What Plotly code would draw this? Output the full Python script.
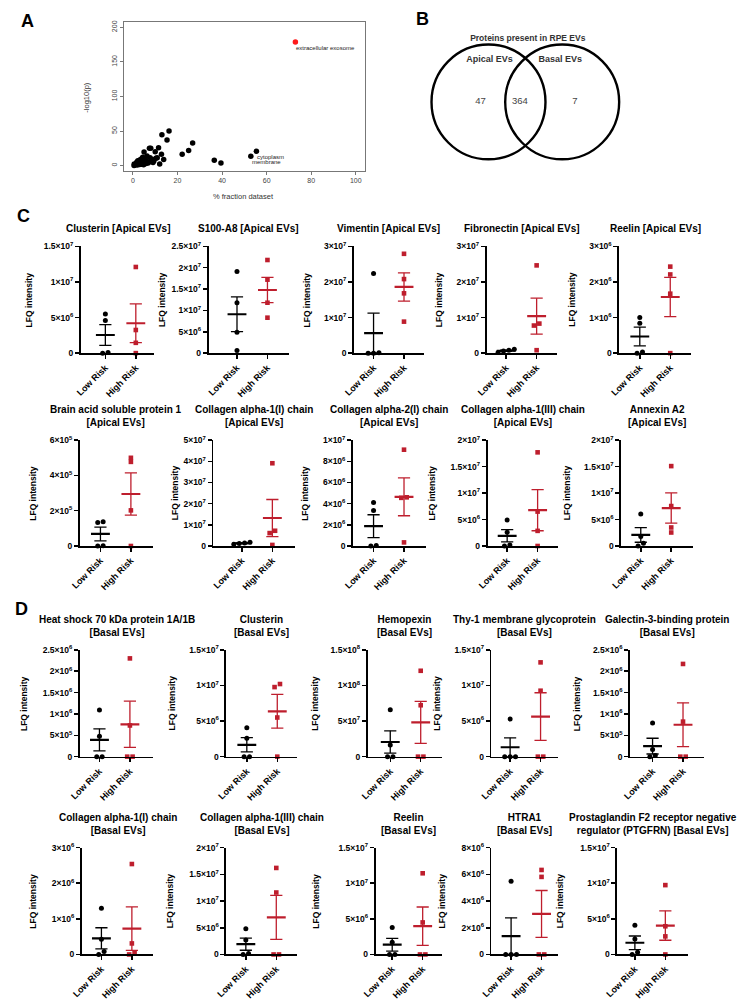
import numpy as np
import plotly.graph_objects as go

W, H = 740, 1001
FONT = "Liberation Sans, Arial, Helvetica, sans-serif"
RED = "#BE1E2D"

# ---------------- DATA ----------------
# Panel A: GO cellular component enrichment
A_frac = [0.5, 0.9, 1.4, 1.8, 2.4, 2.9, 3.5, 4.1, 0.6, 1.7,
          2.6, 3.2, 3.8, 4.4, 5.0, 5.3, 5.9, 6.3, 6.8, 7.4,
          8.0, 7.7, 8.7, 9.4, 10.3, 10.9, 10.0, 11.5, 12.8, 13.8,
          12.0, 13.0, 15.3, 16.2, 22.1, 25.0, 26.8, 36.5, 39.5, 52.9,
          55.4, 1.2, 2.0, 3.0, 4.6, 5.5, 6.1, 2.2, 3.9, 4.8,
          8.0, 9.0]
A_logp = [0.3, 1.0, 2.0, 3.0, 4.5, 6.5, 8.0, 10.5, 2.5, 5.0,
          4.0, 8.5, 2.0, 12.0, 19.7, 7.0, 3.0, 14.0, 3.8, 25.0,
          25.0, 11.5, 9.0, 6.7, 10.6, 11.5, 20.0, 26.0, 16.3, 9.0,
          2.4, 44.7, 37.0, 50.0, 16.3, 22.0, 32.7, 7.7, 3.8, 13.5,
          20.7, 1.5, 0.8, 1.5, 5.5, 9.5, 6.0, 7.0, 3.5, 1.2,
          6.0, 4.5]
A_top_frac = [72.9]
A_top_logp = [178.8]
A_label_text = ["extracellular exosome", "cytoplasm", "membrane"]
A_label_frac = [72.9, 55.4, 52.9]
A_label_logp = [178.8, 20.7, 13.5]
A_xticks = [0, 20, 40, 60, 80, 100]
A_yticks = [0, 50, 100, 150, 200]

# Panel B: Venn
venn_title = "Proteins present in RPE EVs"
venn_sets = ["Apical EVs", "Basal EVs"]
venn_counts = [47, 364, 7]  # apical only, shared, basal only

# Panels C and D
groups = ["Low Risk", "High Risk"]
titles = [
    "Clusterin [Apical EVs]", "S100-A8 [Apical EVs]", "Vimentin [Apical EVs]",
    "Fibronectin [Apical EVs]", "Reelin [Apical EVs]",
    "Brain acid soluble protein 1<br>[Apical EVs]", "Collagen alpha-1(I) chain<br>[Apical EVs]",
    "Collagen alpha-2(I) chain<br>[Apical EVs]", "Collagen alpha-1(III) chain<br>[Apical EVs]",
    "Annexin A2<br>[Apical EVs]",
    "Heat shock 70 kDa protein 1A/1B<br>[Basal EVs]", "Clusterin<br>[Basal EVs]",
    "Hemopexin<br>[Basal EVs]", "Thy-1 membrane glycoprotein<br>[Basal EVs]",
    "Galectin-3-binding protein<br>[Basal EVs]",
    "Collagen alpha-1(I) chain<br>[Basal EVs]", "Collagen alpha-1(III) chain<br>[Basal EVs]",
    "Reelin<br>[Basal EVs]", "HTRA1<br>[Basal EVs]",
    "Prostaglandin F2 receptor negative<br>regulator (PTGFRN) [Basal EVs]",
]
low_risk = [
    [5.5e6, 4.6e6, 0.1e6, 0.0],
    [19.1e6, 11.8e6, 4.9e6, 0.6e6],
    [22.4e6, 0.1e6, 0.0, 0.0],
    [1.1e6, 0.8e6, 0.6e6, 0.2e6],
    [1.0e6, 0.84e6, 0.03e6, 0.0],
    [1.38e5, 1.33e5, 0.02e5, 0.0],
    [1.8e6, 1.4e6, 1.2e6, 0.8e6],
    [4.1e6, 3.35e6, 0.05e6, 0.0],
    [4.9e6, 2.6e6, 0.2e6, 0.0],
    [6.07e6, 1.8e6, 0.5e6, 0.0],
    [1.09e6, 0.48e6, 0.0, 0.0],
    [4.07e6, 2.6e6, 0.0, 0.0],
    [6.6e7, 1.65e7, 0.0, 0.0],
    [5.28e6, 0.0, 0.0, 0.0],
    [0.787e6, 0.17e6, 0.03e6, 0.0],
    [1.3e6, 0.43e6, 0.08e6, 0.0],
    [4.8e6, 2.7e6, 0.2e6, 0.0],
    [3.78e6, 1.7e6, 0.0, 0.0],
    [5.49e6, 0.0, 0.0, 0.0],
    [4.1e6, 2.17e6, 0.3e6, 0.0],
]
high_risk = [
    [12.1e6, 3.25e6, 1.45e6, 0.0],
    [21.8e6, 17.2e6, 11.8e6, 8.3e6],
    [27.9e6, 20.8e6, 16.8e6, 8.85e6],
    [24.65e6, 8.3e6, 7.75e6, 0.83e6],
    [2.43e6, 2.21e6, 1.67e6, 0.0],
    [5.0e5, 4.77e5, 2.02e5, 0.0],
    [39.1e6, 7.2e6, 6.1e6, 0.5e6],
    [9.1e6, 4.6e6, 4.55e6, 0.34e6],
    [17.7e6, 6.5e6, 2.86e6, 0.0],
    [15.1e6, 7.55e6, 3.5e6, 2.55e6],
    [2.3e6, 0.73e6, 0.0, 0.0],
    [10.2e6, 9.77e6, 5.5e6, 0.0],
    [12.06e7, 7.22e7, 0.0, 0.0],
    [13.24e6, 9.26e6, 0.0, 0.0],
    [2.17e6, 0.82e6, 0.0, 0.0],
    [2.54e6, 0.31e6, 0.05e6, 0.0],
    [16.2e6, 11.6e6, 0.0, 0.0],
    [11.4e6, 4.5e6, 0.0, 0.0],
    [6.33e6, 5.81e6, 0.0, 0.0],
    [9.74e6, 3.96e6, 2.54e6, 0.0],
]
y_max = [1.5e7, 2.5e7, 3e7, 3e7, 3e6,
         6e5, 5e7, 1e7, 2e7, 2e7,
         2.5e6, 1.5e7, 1.5e8, 1.5e7, 2.5e6,
         3e6, 2e7, 1.5e7, 8e6, 1.5e7]
y_step = [5e6, 5e6, 1e7, 1e7, 1e6,
          2e5, 1e7, 2e6, 5e6, 5e6,
          5e5, 5e6, 5e7, 5e6, 5e5,
          1e6, 5e6, 5e6, 2e6, 5e6]

# ---------------- LAYOUT CONSTANTS (pixels) ----------------
row_top_px = [243, 439, 651, 851]
row_zero_px = [351, 546, 759, 959]
ax_left_px = [69, 199, 347, 482, 617, 68, 204, 346, 483, 619,
              68, 217, 361, 487, 628, 70, 217, 369, 487, 615]
ax_right_px = [144, 281, 418, 554, 690, 142, 287, 420, 555, 692,
               143, 289, 437, 555, 703, 143, 289, 437, 555, 687]
cat0_pad_px = [25, 29, 20, 20, 21, 21, 29, 21, 20, 20,
               20, 21, 23, 19, 23, 20, 20, 17, 20, 18]
ytitle_gap_px = [40, 35, 35, 36, 35, 35, 26, 36, 43, 42,
                 44, 42, 40, 42, 41, 37, 44, 48, 37, 45]
CAT_PX = 31.0
ROT_FIX_PX = 13   # rotated annotations render right of their anchor by this much


def px_x(p):
    return p / W


def px_y(p):
    return 1 - p / H


def sci(v):
    if v == 0:
        return "<b>0</b>"
    e = int(np.floor(np.log10(v) + 1e-9))
    m = round(v / 10 ** e, 2)
    return f"<b>{m:g}×10<sup>{e}</sup></b>"


def spread(vals, ymax, plot_h, spacing_px=5.5, thresh_px=3.6):
    order = np.argsort(vals)
    offs = np.zeros(len(vals))
    grps = []
    for idx in order:
        if grps and abs(vals[idx] - vals[grps[-1][-1]]) / ymax * plot_h < thresh_px:
            grps[-1].append(idx)
        else:
            grps.append([idx])
    for g in grps:
        k = len(g)
        for j, idx in enumerate(g):
            offs[idx] = (j - (k - 1) / 2) * spacing_px / CAT_PX
    return offs


fig = go.Figure()
layout = dict(width=W, height=H, margin=dict(l=0, r=0, t=0, b=0),
              paper_bgcolor="white", plot_bgcolor="white", showlegend=False,
              font=dict(family=FONT, color="black"))
ann = []
shapes = []


def paper_text(text, xp, yp, size, color="black", angle=0, xanchor="center",
               yanchor="middle"):
    if angle:
        xp -= ROT_FIX_PX
    return dict(text=text, x=px_x(xp), y=px_y(yp), xref="paper", yref="paper",
                xanchor=xanchor, yanchor=yanchor, textangle=angle, showarrow=False,
                font=dict(size=size, color=color))


# ---------------- Panel A ----------------
fig.add_trace(go.Scatter(x=A_frac, y=A_logp, mode="markers",
                         marker=dict(color="black", size=5.5, line=dict(width=0)),
                         xaxis="x", yaxis="y", hoverinfo="skip"))
fig.add_trace(go.Scatter(x=A_top_frac, y=A_top_logp, mode="markers",
                         marker=dict(color="#FF1A1A", size=5.5, line=dict(width=0)),
                         xaxis="x", yaxis="y", hoverinfo="skip"))
axA = dict(ticks="outside", ticklen=3, tickwidth=0.8, tickcolor="#555", showline=True,
           mirror=True, linecolor="#555", linewidth=0.8, showgrid=False, zeroline=False,
           tickfont=dict(size=7, color="#444"), fixedrange=True)
layout["xaxis"] = dict(domain=[px_x(113), px_x(358)], range=[-4, 104], tickvals=A_xticks,
                       anchor="y", **axA)
layout["yaxis"] = dict(domain=[px_y(167), px_y(16)], range=[-8, 208], tickvals=A_yticks,
                       tickangle=-90, anchor="x", **axA)
for t, fx, fy in zip(A_label_text, A_label_frac, A_label_logp):
    ann.append(dict(x=fx, y=fy, xref="x", yref="y", text=t, showarrow=False,
                    xanchor="left", yanchor="middle", yshift=-6, xshift=-1,
                    font=dict(size=6, color="#222")))
ann.append(paper_text("-log10(p)", 88, 92, 7.5, "#333", angle=-90))
ann.append(paper_text("% fraction dataset", 235, 193, 7.5, "#333"))

# ---------------- Panel B (Venn) ----------------
layout["xaxis2"] = dict(domain=[px_x(400), px_x(640)], range=[0, 240], visible=False,
                        anchor="y2", fixedrange=True)
layout["yaxis2"] = dict(domain=[px_y(180), px_y(20)], range=[0, 160], visible=False,
                        anchor="x2", fixedrange=True)
venn_circles = [(84, 83, 58), (159, 83, 58)]
for cx, cy, r in venn_circles:
    shapes.append(dict(type="circle", xref="x2", yref="y2", x0=cx - r, x1=cx + r,
                       y0=cy - r, y1=cy + r, line=dict(color="black", width=2.4)))
fig.add_trace(go.Scatter(x=[76, 116, 172], y=[83, 83, 83], mode="text",
                         text=[str(c) for c in venn_counts],
                         textfont=dict(size=9.5, color="#444", family=FONT),
                         xaxis="x2", yaxis="y2", hoverinfo="skip"))
fig.add_trace(go.Scatter(x=[85, 157], y=[126, 126], mode="text",
                         text=[f"<b>{s}</b>" for s in venn_sets],
                         textfont=dict(size=9, color="#333", family=FONT),
                         xaxis="x2", yaxis="y2", hoverinfo="skip"))
fig.add_trace(go.Scatter(x=[124], y=[147], mode="text", text=[f"<b>{venn_title}</b>"],
                         textfont=dict(size=8.5, color="#333", family=FONT),
                         xaxis="x2", yaxis="y2", hoverinfo="skip"))

# ---------------- Panels C and D ----------------
for i in range(20):
    n = i + 3
    row = i // 5
    top, zero = row_top_px[row], row_zero_px[row]
    left, right = ax_left_px[i], ax_right_px[i]
    plot_h = zero - top
    x0 = -cat0_pad_px[i] / CAT_PX
    x1 = x0 + (right - left) / CAT_PX
    ymax, step = y_max[i], y_step[i]
    nt = int(round(ymax / step))
    tv = [k * step for k in range(nt + 1)]
    xa, ya = f"x{n}", f"y{n}"
    for gi, (vals, color, symbol, msize) in enumerate(
            [(low_risk[i], "black", "circle", 5), (high_risk[i], RED, "square", 4.6)]):
        v = np.array(vals, dtype=float)
        m = v.mean()
        s = v.std(ddof=1) / np.sqrt(len(v))
        c = gi
        fig.add_trace(go.Scatter(x=[c - 0.31, c + 0.31], y=[m, m], mode="lines",
                                 line=dict(color=color, width=2.2),
                                 xaxis=xa, yaxis=ya, hoverinfo="skip"))
        fig.add_trace(go.Scatter(
            x=[c, c, None, c - 0.2, c + 0.2, None, c - 0.2, c + 0.2],
            y=[m - s, m + s, None, m + s, m + s, None, m - s, m - s],
            mode="lines", line=dict(color=color, width=1.3),
            xaxis=xa, yaxis=ya, hoverinfo="skip"))
        offs = spread(v, ymax, plot_h)
        fig.add_trace(go.Scatter(x=c + offs, y=v, mode="markers", cliponaxis=False,
                                 marker=dict(symbol=symbol, color=color, size=msize,
                                             line=dict(width=0)),
                                 xaxis=xa, yaxis=ya, hoverinfo="skip"))
    common = dict(ticks="outside", ticklen=4, tickwidth=1.5, tickcolor="black",
                  showline=True, linewidth=1.8, linecolor="black", showgrid=False,
                  zeroline=False, fixedrange=True)
    layout[f"xaxis{n}"] = dict(domain=[px_x(left), px_x(right)], range=[x0, x1],
                               tickvals=[0, 1], ticktext=[f"<b>{g}</b>" for g in groups],
                               tickangle=-45, tickfont=dict(size=9, color="black"),
                               anchor=ya, **common)
    layout[f"yaxis{n}"] = dict(domain=[px_y(zero), px_y(top)], range=[0, ymax],
                               tickvals=tv, ticktext=[sci(t) for t in tv],
                               tickfont=dict(size=8.5, color="black"),
                               anchor=xa, **common)
    ann.append(paper_text(f"<b>{titles[i]}</b>", (left + right) / 2, top - 10, 10,
                          yanchor="bottom"))
    ann.append(paper_text("<b>LFQ intensity</b>", left - ytitle_gap_px[i],
                          (top + zero) / 2, 8.5, angle=-90))

# Panel letters
for letter, lx, ly in [("A", 15, 15), ("B", 417, 13), ("C", 11, 212), ("D", 9, 610)]:
    ann.append(paper_text(f"<b>{letter}</b>", lx, ly, 18))

layout["annotations"] = ann
layout["shapes"] = shapes
fig.update_layout(**layout)
fig.write_html("out.html", config={"displayModeBar": False, "staticPlot": True},
               post_script="document.body.style.margin='0';document.body.style.overflow='hidden';")
